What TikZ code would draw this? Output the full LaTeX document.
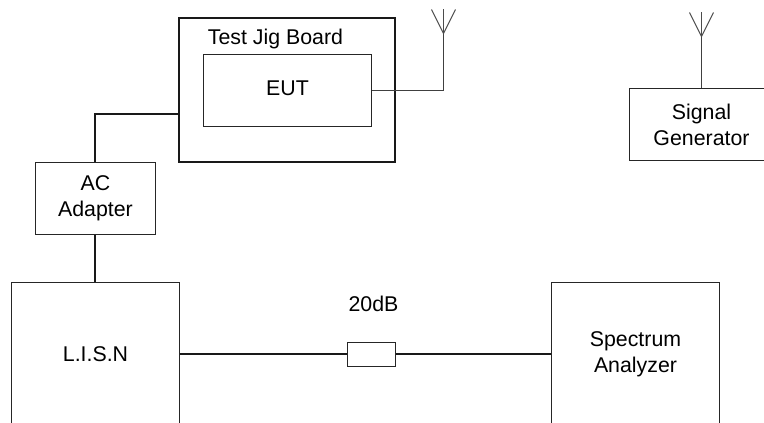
\documentclass[tikz,border=0pt]{standalone}
\usepackage{fontspec}
\setmainfont{Liberation Sans}
\tikzset{
  px/.style={x=0.75pt,y=-0.75pt},
  box/.style={draw=black!85,line width=0.75pt,inner sep=0pt,align=center,font=\fontsize{16}{19.5}\selectfont},
  label/.style={inner sep=0pt,font=\fontsize{16}{19.5}\selectfont},
  heavy/.style={draw=black!90,line width=1.5pt},
  wire/.style={draw=black!75,line width=0.85pt},
  aerial/.style={draw=black!70,line width=0.75pt}
}
\begin{document}
\begin{tikzpicture}[px]
\useasboundingbox (0,0) rectangle (764,423);
\node[box,line width=1.5pt,draw=black!90,minimum width=162pt,minimum height=108pt] (jig) at (287,90) {};
\coordinate (j1) at (179,114);
\coordinate (j2) at (95,114);
\begin{scope}[shift={(0.5,0.5)}]
\node[box,minimum width=126pt,minimum height=54pt] (eut) at (287,90) {};
\node[label] (eutl) at (287,88) {EUT};
\node[label] (jigl) at (275,38) {Test Jig Board};
\node[box,minimum width=90pt,minimum height=54pt] (ac) at (95,198) {AC\\Adapter};
\node[box,minimum width=126pt,minimum height=108pt] (lisn) at (95,354) {L.I.S.N};
\node[box,minimum width=126pt,minimum height=108pt] (sa) at (635,354) {Spectrum\\Analyzer};
\node[box,minimum width=36pt,minimum height=18pt] (att) at (371,354) {};
\node[label] (attl) at (373,303) {20dB};
\node[box,minimum width=108pt,minimum height=54pt] (sig) at (701,124) {Signal\\Generator};
\coordinate (a1) at (443,33);
\coordinate (a1l) at (431,9);
\coordinate (a1m) at (443,9);
\coordinate (a1r) at (455,9);
\coordinate (a2) at (701,36);
\coordinate (a2l) at (689,12);
\coordinate (a2m) at (701,12);
\coordinate (a2r) at (713,12);
\end{scope}
\draw[heavy] (j1) -- (j2) -- (j2 |- ac.north);
\draw[heavy] (j2 |- ac.south) -- (j2 |- lisn.north);
\draw[heavy] (lisn.east) -- (att.west);
\draw[heavy] (att.east) -- (sa.west);
\draw[wire] (eut.east) -| (a1);
\draw[aerial] (a1l) -- (a1) -- (a1r);
\draw[aerial] (a1m) -- (a1);
\draw[wire] (sig.north) -- (a2);
\draw[aerial] (a2l) -- (a2) -- (a2r);
\draw[aerial] (a2m) -- (a2);
\end{tikzpicture}
\end{document}
